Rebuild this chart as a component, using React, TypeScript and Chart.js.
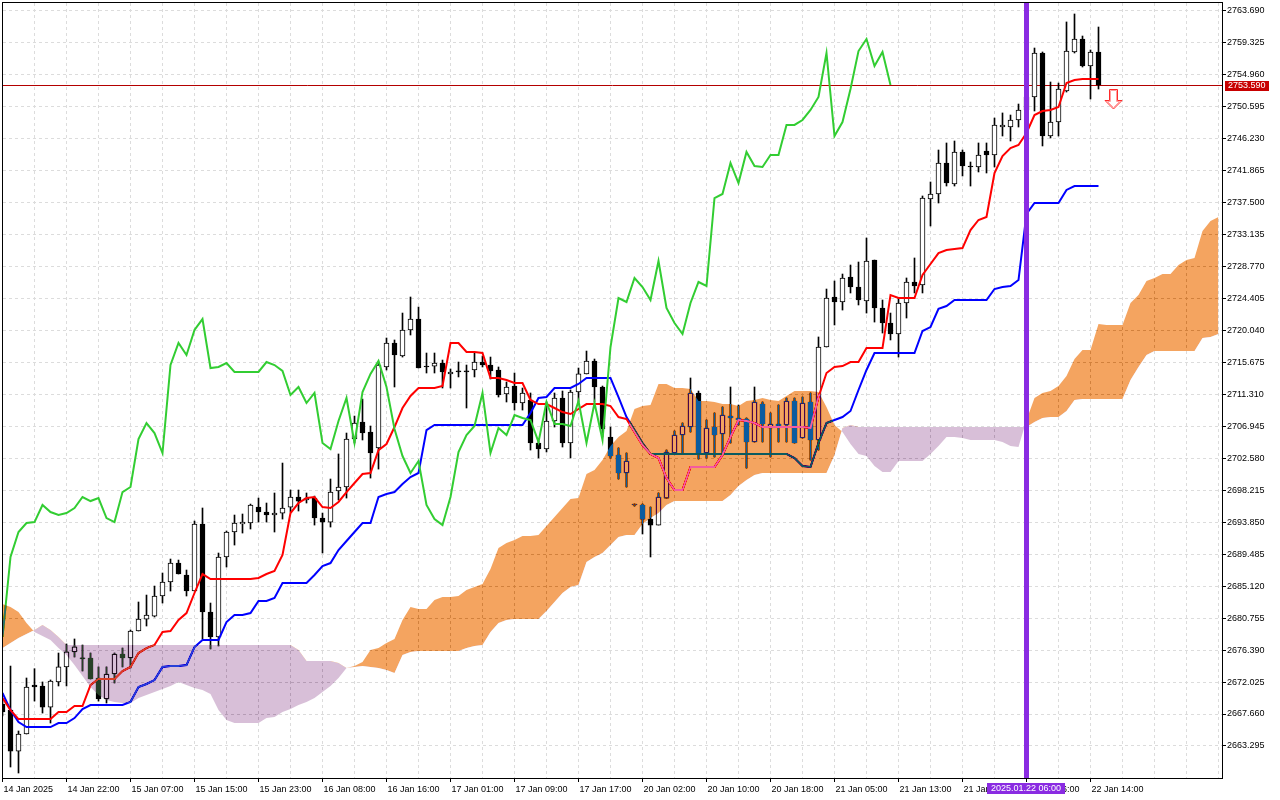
import React, { useEffect, useRef } from 'react';
import { Chart, registerables } from 'chart.js';

Chart.register(...registerables);

// XAUUSD H1, 14 Jan 14:00 .. 22 Jan 15:00 (one label every 8 bars)
const xLabels = [
  '14 Jan 2025', '14 Jan 22:00', '15 Jan 07:00', '15 Jan 15:00', '15 Jan 23:00', '16 Jan 08:00',
  '16 Jan 16:00', '17 Jan 01:00', '17 Jan 09:00', '17 Jan 17:00', '20 Jan 02:00', '20 Jan 10:00',
  '20 Jan 18:00', '21 Jan 05:00', '21 Jan 13:00', '21 Jan 21:00', '22 Jan 06:00', '22 Jan 14:00',
];

const yTicks = [
  2663.295, 2667.66, 2672.025, 2676.39, 2680.755, 2685.12, 2689.485, 2693.85, 2698.215, 2702.58,
  2706.945, 2711.31, 2715.675, 2720.04, 2724.405, 2728.77, 2733.135, 2737.5, 2741.865, 2746.23,
  2750.595, 2754.96, 2759.325, 2763.69,
];

const opens = [
  2669.02, 2668.20, 2662.60, 2664.93, 2671.62, 2671.49, 2668.61, 2672.04, 2674.09, 2676.14,
  2675.31, 2675.31, 2672.58, 2669.71, 2673.13, 2675.86, 2675.31, 2679.00, 2680.63, 2681.04,
  2683.78, 2685.69, 2688.28, 2686.65, 2684.46, 2693.61, 2681.59, 2678.18, 2689.11, 2692.52,
  2693.61, 2693.75, 2695.93, 2695.25, 2694.84, 2695.11, 2695.93, 2697.30, 2696.89, 2697.16,
  2694.43, 2693.88, 2698.12, 2698.67, 2705.22, 2707.55, 2706.18, 2704.00, 2715.06, 2718.34,
  2716.56, 2720.11, 2721.61, 2715.19, 2715.19, 2715.60, 2714.11, 2714.52, 2714.52, 2714.65,
  2715.74, 2715.33, 2714.65, 2711.37, 2712.46, 2710.14, 2710.55, 2704.68, 2703.86, 2707.68,
  2710.82, 2704.68, 2711.64, 2714.11, 2715.88, 2712.33, 2705.50, 2703.04, 2700.58, 2696.21,
  2696.21, 2694.29, 2693.47, 2697.16, 2703.31, 2705.77, 2706.86, 2711.51, 2703.31, 2706.86,
  2705.91, 2708.36, 2708.09, 2707.96, 2704.82, 2710.00, 2706.73, 2707.27, 2707.14, 2710.41,
  2705.36, 2710.28, 2705.09, 2717.79, 2724.62, 2723.94, 2727.35, 2725.99, 2724.07, 2729.67,
  2723.12, 2721.07, 2719.57, 2723.80, 2726.67, 2726.26, 2738.01, 2738.69, 2742.92, 2740.06,
  2744.43, 2742.52, 2742.38, 2744.56, 2744.02, 2747.84, 2747.84, 2748.80, 2750.17, 2751.94,
  2757.95, 2746.61, 2748.52, 2752.76, 2758.09, 2759.86, 2756.17, 2758.09,
];

const highs = [
  2669.57, 2674.21, 2665.34, 2672.58, 2673.85, 2672.04, 2672.31, 2675.99, 2677.23, 2677.91,
  2677.09, 2675.99, 2674.09, 2674.09, 2675.99, 2676.67, 2679.13, 2682.96, 2683.91, 2685.14,
  2686.92, 2688.83, 2688.69, 2687.33, 2694.02, 2695.80, 2682.82, 2689.65, 2692.66, 2694.84,
  2694.98, 2696.34, 2697.16, 2696.48, 2697.85, 2701.94, 2698.26, 2698.26, 2697.85, 2697.43,
  2695.11, 2699.76, 2703.18, 2706.04, 2708.36, 2710.68, 2707.00, 2715.74, 2719.02, 2718.75,
  2722.43, 2724.62, 2723.25, 2716.97, 2716.97, 2716.01, 2714.79, 2715.74, 2715.33, 2716.97,
  2716.56, 2716.42, 2715.06, 2713.01, 2714.24, 2712.19, 2711.51, 2704.95, 2710.28, 2711.51,
  2711.78, 2711.92, 2714.92, 2717.24, 2716.15, 2712.46, 2706.86, 2704.00, 2703.31, 2696.34,
  2696.34, 2695.93, 2697.85, 2703.72, 2706.32, 2707.41, 2713.56, 2711.78, 2707.82, 2708.78,
  2709.60, 2712.33, 2709.87, 2708.09, 2712.33, 2710.28, 2708.78, 2709.87, 2710.82, 2710.82,
  2710.96, 2711.51, 2719.16, 2725.71, 2726.81, 2727.76, 2728.99, 2729.40, 2732.68, 2729.67,
  2724.21, 2722.43, 2724.48, 2727.22, 2729.95, 2738.42, 2740.33, 2744.70, 2745.66, 2745.93,
  2744.70, 2743.06, 2745.66, 2745.66, 2749.07, 2749.76, 2749.48, 2750.98, 2752.62, 2758.63,
  2758.09, 2753.99, 2753.85, 2762.19, 2763.28, 2760.27, 2758.36, 2761.50,
];

const lows = [
  2667.39, 2660.42, 2659.60, 2664.93, 2669.43, 2667.79, 2666.43, 2671.49, 2671.49, 2675.45,
  2673.54, 2672.45, 2669.43, 2669.16, 2671.90, 2674.09, 2673.95, 2679.00, 2679.68, 2680.91,
  2682.82, 2684.46, 2686.78, 2683.78, 2684.46, 2677.91, 2676.55, 2676.96, 2687.74, 2690.74,
  2692.38, 2692.93, 2693.88, 2693.88, 2692.52, 2694.29, 2695.25, 2695.39, 2696.48, 2693.47,
  2689.65, 2693.20, 2696.89, 2697.16, 2704.68, 2705.09, 2699.89, 2701.12, 2714.65, 2712.33,
  2716.42, 2719.43, 2714.92, 2714.24, 2714.24, 2712.19, 2712.19, 2713.70, 2709.46, 2713.70,
  2715.06, 2713.42, 2710.96, 2710.28, 2709.18, 2709.18, 2703.72, 2702.63, 2703.45, 2706.86,
  2704.13, 2702.63, 2710.28, 2714.11, 2710.28, 2705.50, 2702.63, 2699.76, 2698.67, 2696.07,
  2692.25, 2689.11, 2693.47, 2697.16, 2703.31, 2703.31, 2706.18, 2702.49, 2702.63, 2702.77,
  2703.31, 2704.68, 2707.14, 2701.26, 2704.82, 2704.82, 2702.77, 2704.82, 2704.82, 2704.68,
  2705.36, 2702.36, 2703.72, 2717.79, 2720.80, 2722.84, 2725.17, 2723.53, 2722.43, 2721.20,
  2719.70, 2718.75, 2716.42, 2721.75, 2725.17, 2725.17, 2734.32, 2737.46, 2739.78, 2739.78,
  2741.15, 2739.78, 2741.70, 2741.56, 2742.38, 2746.61, 2745.93, 2747.84, 2749.35, 2750.03,
  2745.25, 2746.34, 2746.61, 2752.62, 2757.95, 2756.04, 2751.67, 2753.03,
];

const closes = [
  2667.93, 2662.60, 2664.93, 2671.35, 2671.35, 2668.61, 2672.17, 2674.09, 2676.14, 2676.82,
  2675.20, 2672.45, 2669.71, 2673.13, 2675.86, 2675.31, 2679.00, 2680.63, 2681.18, 2683.78,
  2685.69, 2688.28, 2686.78, 2684.46, 2693.61, 2681.59, 2678.18, 2689.11, 2692.52, 2693.75,
  2693.88, 2696.21, 2695.25, 2694.84, 2695.11, 2695.80, 2697.30, 2696.75, 2697.16, 2694.43,
  2693.88, 2697.98, 2698.67, 2705.22, 2707.41, 2706.04, 2703.31, 2715.33, 2718.34, 2716.70,
  2720.11, 2721.61, 2714.92, 2715.06, 2715.60, 2714.38, 2714.38, 2714.38, 2714.38, 2715.74,
  2715.33, 2714.52, 2711.24, 2712.33, 2710.14, 2711.51, 2704.68, 2703.86, 2707.68, 2710.82,
  2704.68, 2711.64, 2714.11, 2715.88, 2712.33, 2706.59, 2702.90, 2700.58, 2702.22, 2696.21,
  2694.29, 2693.47, 2697.30, 2703.45, 2705.77, 2707.00, 2711.51, 2703.31, 2706.73, 2705.77,
  2708.50, 2708.09, 2707.82, 2704.82, 2710.28, 2707.27, 2707.27, 2707.00, 2710.41, 2704.68,
  2710.14, 2705.09, 2717.79, 2724.48, 2723.94, 2727.22, 2725.99, 2724.21, 2729.54, 2723.12,
  2721.07, 2719.57, 2723.80, 2726.67, 2726.13, 2738.14, 2738.69, 2742.92, 2740.19, 2744.43,
  2742.52, 2742.38, 2744.02, 2744.02, 2748.12, 2748.12, 2748.80, 2750.17, 2751.94, 2757.95,
  2746.61, 2748.52, 2753.03, 2758.22, 2759.86, 2756.17, 2758.09, 2753.59,
];

const tenkan = [
  2669.84, 2668.20, 2666.97, 2666.97, 2666.97, 2666.97, 2666.97, 2667.93, 2667.93, 2668.75,
  2668.75, 2671.62, 2672.44, 2672.44, 2672.44, 2673.53, 2674.08, 2675.99, 2676.67, 2677.08,
  2678.86, 2679.00, 2680.50, 2681.45, 2684.19, 2686.78, 2686.10, 2686.10, 2686.10, 2686.10,
  2686.10, 2686.10, 2686.24, 2686.78, 2687.19, 2689.38, 2695.11, 2696.48, 2697.16, 2697.30,
  2695.93, 2695.80, 2696.62, 2697.98, 2699.21, 2700.44, 2700.58, 2703.70, 2704.54, 2706.86,
  2709.46, 2711.10, 2712.19, 2712.19, 2712.19, 2712.46, 2718.34, 2718.34, 2717.11, 2717.11,
  2716.97, 2713.56, 2713.56, 2713.28, 2712.87, 2712.87, 2710.55, 2710.00, 2710.00, 2709.46,
  2708.91, 2708.64, 2709.32, 2710.00, 2710.00, 2710.00, 2709.73, 2708.23, 2707.95, 2706.18,
  2704.40, 2703.18, 2702.63, 2699.89, 2698.26, 2698.26, 2701.40, 2701.40, 2701.40, 2701.40,
  2703.04, 2705.50, 2707.82, 2707.68, 2707.41, 2706.86, 2706.86, 2706.86, 2706.86, 2706.86,
  2706.86, 2706.73, 2710.96, 2714.24, 2715.06, 2715.19, 2715.74, 2715.74, 2717.65, 2717.65,
  2717.65, 2724.89, 2724.48, 2724.48, 2724.48, 2727.63, 2729.13, 2730.62, 2731.04, 2731.17,
  2731.31, 2733.77, 2735.14, 2735.55, 2741.56, 2743.88, 2744.97, 2745.38, 2747.02, 2749.48,
  2750.03, 2750.17, 2750.57, 2753.85, 2754.26, 2754.40, 2754.40, 2754.40,
];

const kijun = [
  2670.53, 2668.20, 2666.56, 2665.88, 2665.88, 2665.88, 2665.88, 2666.43, 2666.43, 2667.11,
  2668.34, 2668.89, 2668.89, 2668.89, 2668.89, 2668.89, 2669.30, 2671.35, 2671.76, 2672.30,
  2674.08, 2674.21, 2674.21, 2674.35, 2676.81, 2677.77, 2677.77, 2677.77, 2680.22, 2681.18,
  2681.18, 2681.45, 2683.09, 2683.09, 2683.50, 2685.55, 2685.55, 2685.55, 2685.55, 2686.65,
  2687.88, 2688.28, 2690.06, 2691.29, 2692.52, 2693.75, 2693.75, 2697.30, 2697.71, 2697.98,
  2699.08, 2700.03, 2700.58, 2706.45, 2707.14, 2707.14, 2707.14, 2707.14, 2707.14, 2707.14,
  2707.14, 2707.14, 2707.14, 2707.14, 2707.14, 2707.14, 2708.78, 2710.82, 2710.96, 2712.19,
  2712.19, 2712.19, 2712.74, 2713.56, 2713.56, 2713.56, 2713.56, 2710.96, 2708.23, 2706.45,
  2704.68, 2703.18, 2703.18, 2703.18, 2703.18, 2703.18, 2703.18, 2703.18, 2703.18, 2703.18,
  2703.18, 2703.18, 2703.18, 2703.18, 2703.18, 2703.18, 2703.18, 2703.18, 2703.18, 2702.63,
  2701.54, 2701.40, 2704.68, 2707.41, 2707.82, 2708.23, 2709.05, 2711.92, 2714.65, 2716.97,
  2716.97, 2716.97, 2716.97, 2716.97, 2716.97, 2719.98, 2720.52, 2723.00, 2723.39, 2724.21,
  2724.21, 2724.21, 2724.21, 2724.21, 2725.71, 2725.99, 2726.13, 2726.94, 2735.96, 2737.46,
  2737.46, 2737.46, 2737.46, 2739.24, 2739.78, 2739.78, 2739.78, 2739.78,
];

// Senkou spans as displayed (already shifted 26 bars ahead), bar 0 .. 152
const spanA = [
  2682.68, 2682.27, 2681.59, 2680.09, 2678.86, 2678.31, 2677.77, 2676.67, 2675.72, 2674.35,
  2672.85, 2671.35, 2670.26, 2669.57, 2669.30, 2669.16, 2669.16, 2669.84, 2670.26, 2670.66,
  2671.07, 2671.49, 2672.04, 2671.62, 2671.21, 2670.94, 2670.39, 2668.20, 2666.84, 2666.43,
  2666.43, 2666.43, 2666.43, 2667.11, 2667.25, 2667.93, 2668.34, 2668.89, 2669.30, 2669.84,
  2670.66, 2671.49, 2672.58, 2673.95, 2674.21, 2674.76, 2676.40, 2676.67, 2677.36, 2677.91,
  2680.50, 2682.27, 2682.00, 2682.00, 2683.23, 2683.64, 2683.64, 2683.78, 2684.60, 2685.01,
  2685.42, 2687.47, 2690.33, 2691.02, 2691.43, 2691.97, 2691.97, 2692.11, 2693.34, 2694.57,
  2695.80, 2697.03, 2697.16, 2700.44, 2700.99, 2702.36, 2704.27, 2705.50, 2706.32, 2709.32,
  2709.73, 2709.87, 2712.74, 2712.74, 2712.19, 2712.19, 2712.06, 2710.41, 2710.41, 2710.28,
  2710.00, 2710.00, 2709.73, 2710.41, 2710.55, 2710.82, 2710.55, 2710.41, 2711.10, 2711.78,
  2711.78, 2711.78, 2711.64, 2709.59, 2707.14, 2706.18, 2704.54, 2703.18, 2702.90, 2701.54,
  2700.71, 2700.71, 2702.22, 2702.22, 2702.22, 2702.22, 2703.18, 2704.27, 2705.50, 2705.50,
  2705.36, 2705.09, 2705.09, 2705.09, 2705.09, 2704.82, 2704.27, 2704.13, 2707.82, 2710.82,
  2711.51, 2711.78, 2712.46, 2713.83, 2716.15, 2717.38, 2717.38, 2720.93, 2720.80, 2720.80,
  2720.80, 2723.80, 2724.89, 2726.81, 2727.22, 2727.76, 2727.76, 2728.99, 2729.67, 2729.95,
  2733.64, 2735.00, 2735.55,
];

const spanB = [
  2676.67, 2677.36, 2678.04, 2678.59, 2679.13, 2679.81, 2679.13, 2678.18, 2677.08, 2677.08,
  2677.08, 2677.08, 2677.08, 2677.08, 2677.08, 2677.08, 2677.08, 2677.08, 2677.08, 2677.08,
  2677.08, 2677.08, 2677.08, 2677.08, 2677.08, 2677.08, 2677.08, 2677.08, 2677.08, 2677.08,
  2677.08, 2677.08, 2677.08, 2677.08, 2677.08, 2677.08, 2677.08, 2676.40, 2674.90, 2674.90,
  2674.90, 2674.90, 2674.62, 2673.95, 2674.08, 2674.21, 2674.08, 2673.95, 2673.67, 2673.26,
  2675.72, 2676.13, 2676.26, 2676.26, 2676.26, 2676.26, 2676.26, 2676.26, 2676.67, 2676.94,
  2677.08, 2678.86, 2680.09, 2680.50, 2680.63, 2680.63, 2680.63, 2680.63, 2681.72, 2682.96,
  2684.19, 2685.01, 2685.28, 2688.42, 2689.11, 2689.65, 2690.74, 2691.84, 2692.11, 2692.11,
  2693.61, 2694.43, 2695.11, 2696.21, 2696.75, 2696.75, 2696.75, 2696.75, 2696.75, 2696.75,
  2696.75, 2697.57, 2698.80, 2699.62, 2700.30, 2700.58, 2700.58, 2700.58, 2700.58, 2700.58,
  2700.58, 2700.58, 2700.58, 2700.58, 2703.04, 2706.73, 2707.14, 2706.86, 2706.86, 2706.86,
  2706.86, 2706.86, 2706.86, 2706.86, 2706.86, 2706.86, 2706.86, 2706.86, 2706.86, 2706.86,
  2706.86, 2706.86, 2706.86, 2706.86, 2706.86, 2706.86, 2706.86, 2706.86, 2706.86, 2707.55,
  2708.09, 2708.23, 2708.23, 2709.05, 2710.55, 2710.69, 2710.69, 2710.69, 2710.69, 2710.69,
  2710.69, 2713.28, 2715.06, 2716.70, 2717.24, 2717.24, 2717.24, 2717.24, 2717.24, 2717.24,
  2719.02, 2719.16, 2719.57,
];

const lastPrice = 2753.59;
const markerIndex = 128; // vertical line 2025.01.22 06:00
const markerLabel = '2025.01.22 06:00';
const signalIndex = 139; // sell arrow
const signalPrice = 2753.0;

const FONT_FAMILY = '"Liberation Sans", Arial, sans-serif';
const FONT_SIZE = 9;
const FONT = `${FONT_SIZE}px ${FONT_FAMILY}`;
const GRID = '#dcdcdc';
// the cloud is painted with 'difference' over the finished chart, so these are the
// inverted colours of sandybrown / thistle (white turns into the real colour)
const ORANGE_INV = 'rgb(11,91,159)';
const PURPLE_INV = 'rgb(39,64,39)';

const xTickValues: number[] = [];
for (let v = 0; v <= 152; v += 4) xTickValues.push(v);

const hasLabel = (v: number) => v % 8 === 0 && xLabels[v / 8] !== undefined;

const terminalPlugin = {
  id: 'terminal',
  beforeDraw(chart: any) {
    const { ctx, width, height } = chart;
    ctx.save();
    ctx.fillStyle = '#ffffff';
    ctx.fillRect(0, 0, width, height);
    ctx.restore();
  },
  beforeDatasetsDraw(chart: any) {
    const { ctx, chartArea: a, scales } = chart;
    const py = Math.round(scales.y.getPixelForValue(lastPrice)) + 0.5;
    ctx.save();
    ctx.strokeStyle = '#b40000';
    ctx.lineWidth = 1;
    ctx.beginPath();
    ctx.moveTo(a.left, py);
    ctx.lineTo(a.right, py);
    ctx.stroke();
    ctx.restore();
  },
  afterDatasetDraw(chart: any, args: any) {
    if (args.index === 5) chart.ctx.globalCompositeOperation = 'difference';
    if (args.index === 6) chart.ctx.globalCompositeOperation = 'source-over';
  },
  afterDraw(chart: any) {
    const { ctx, chartArea: a, scales } = chart;
    ctx.save();
    ctx.globalCompositeOperation = 'source-over';

    // vertical line + its time label
    const vx = scales.x.getPixelForValue(markerIndex);
    ctx.fillStyle = '#8a2be2';
    ctx.fillRect(vx - 2.5, a.top, 5, a.bottom - a.top);
    ctx.font = FONT;
    ctx.textBaseline = 'middle';
    ctx.textAlign = 'left';
    const tw = ctx.measureText(markerLabel).width;
    ctx.fillRect(Math.round(vx - tw / 2 - 4), a.bottom + 5, Math.round(tw + 8), 11);
    ctx.fillStyle = '#ffffff';
    ctx.fillText(markerLabel, Math.round(vx - tw / 2), a.bottom + 11);

    // frame
    ctx.strokeStyle = '#000000';
    ctx.lineWidth = 1;
    ctx.strokeRect(a.left - 0.5, a.top - 0.5, a.right - a.left + 1, a.bottom - a.top + 1);

    // bid label
    const py = Math.round(scales.y.getPixelForValue(lastPrice));
    ctx.fillStyle = '#c80000';
    ctx.fillRect(a.right + 3, py - 4, 44, 10);
    ctx.fillStyle = '#ffffff';
    ctx.fillText(lastPrice.toFixed(3), a.right + 6, py + 1);

    // sell arrow
    const sx = Math.round(scales.x.getPixelForValue(signalIndex)) - 1.5;
    const sy = Math.round(scales.y.getPixelForValue(signalPrice)) + 0.5;
    ctx.beginPath();
    ctx.moveTo(sx - 4, sy);
    ctx.lineTo(sx + 4, sy);
    ctx.lineTo(sx + 4, sy + 11);
    ctx.lineTo(sx + 8.5, sy + 11);
    ctx.lineTo(sx, sy + 19.5);
    ctx.lineTo(sx - 8.5, sy + 11);
    ctx.lineTo(sx - 4, sy + 11);
    ctx.closePath();
    ctx.fillStyle = '#ffffff';
    ctx.fill();
    ctx.strokeStyle = '#ff2a2a';
    ctx.stroke();
    ctx.beginPath();
    ctx.moveTo(sx - 3, sy + 1);
    ctx.lineTo(sx + 3, sy + 1);
    ctx.lineTo(sx + 3, sy + 12);
    ctx.lineTo(sx + 6, sy + 12);
    ctx.lineTo(sx, sy + 18);
    ctx.lineTo(sx - 6, sy + 12);
    ctx.lineTo(sx - 3, sy + 12);
    ctx.closePath();
    ctx.strokeStyle = '#ffa0a0';
    ctx.stroke();
    ctx.restore();
  },
};

const IchimokuChart: React.FC = () => {
  const canvasRef = useRef<HTMLCanvasElement>(null);

  useEffect(() => {
    if (!canvasRef.current) return;
    const ctx = canvasRef.current.getContext('2d');
    if (!ctx) return;

    const line = (data: { x: number; y: number }[], color: string, order: number) => ({
      type: 'line' as const,
      data,
      borderColor: color,
      borderWidth: 2,
      pointRadius: 0,
      tension: 0,
      fill: false,
      order,
    });

    const chart = new Chart(ctx, {
      type: 'bar',
      data: {
        datasets: [
          {
            type: 'bar',
            label: 'wicks',
            data: highs.map((h, i) => ({ x: i, y: [lows[i], h] })) as any,
            backgroundColor: '#000000',
            borderWidth: 0,
            barThickness: 1,
            grouped: false,
            order: 10,
          },
          {
            type: 'bar',
            label: 'bodies',
            data: opens.map((o, i) => ({ x: i, y: [o, closes[i]] })) as any,
            backgroundColor: (c: any) => (closes[c.dataIndex] >= opens[c.dataIndex] ? '#ffffff' : '#000000'),
            borderColor: '#000000',
            borderWidth: 1,
            borderSkipped: false,
            barThickness: 5,
            minBarLength: 1,
            grouped: false,
            order: 9,
          },
          { label: 'Kijun-sen', ...line(kijun.map((v, i) => ({ x: i, y: v })), '#0000ff', 8) },
          { label: 'Tenkan-sen', ...line(tenkan.map((v, i) => ({ x: i, y: v })), '#ff0000', 7) },
          { label: 'Chikou Span', ...line(closes.map((v, i) => ({ x: i - 26, y: v })), '#32cd32', 6) },
          {
            type: 'line',
            label: 'Senkou Span B',
            data: spanB.map((v, i) => ({ x: i, y: v })),
            borderColor: 'rgba(0,0,0,0)',
            borderWidth: 0,
            pointRadius: 0,
            fill: false,
            order: 2,
          },
          {
            type: 'line',
            label: 'Senkou Span A',
            data: spanA.map((v, i) => ({ x: i, y: v })),
            borderColor: 'rgba(0,0,0,0)',
            borderWidth: 0,
            pointRadius: 0,
            fill: { target: 5, above: ORANGE_INV, below: PURPLE_INV },
            order: 1,
          },
        ] as any,
      },
      options: {
        animation: false,
        responsive: false,
        devicePixelRatio: 1,
        events: [],
        layout: { padding: { left: 3, top: 3, right: 0, bottom: 0 } },
        plugins: {
          legend: { display: false },
          tooltip: { enabled: false },
          filler: { drawTime: 'beforeDatasetDraw' },
        },
        scales: {
          x: {
            type: 'linear',
            min: 0.0625,
            max: 152.4375,
            offset: false,
            afterBuildTicks: (s: any) => {
              s.ticks = xTickValues.map((v) => ({ value: v }));
            },
            afterFit: (s: any) => {
              s.height = 22;
              s.paddingLeft = 0;
              s.paddingRight = 0;
            },
            ticks: {
              autoSkip: false,
              maxRotation: 0,
              minRotation: 0,
              align: 'start',
              labelOffset: 1,
              padding: 2,
              color: '#000000',
              font: { family: FONT_FAMILY, size: FONT_SIZE },
              callback: (v: any) => (hasLabel(Number(v)) ? xLabels[Number(v) / 8] : ''),
            },
            grid: {
              offset: false,
              color: GRID,
              lineWidth: 1,
              tickLength: 4,
              tickColor: (c: any) => (c.tick && hasLabel(c.tick.value) ? '#000000' : 'rgba(0,0,0,0)'),
            },
            border: { display: false, dash: [3, 3] },
          },
          y: {
            position: 'right',
            min: 2658.92,
            max: 2764.78,
            afterBuildTicks: (s: any) => {
              s.ticks = yTicks.map((v) => ({ value: v }));
            },
            afterFit: (s: any) => {
              s.width = 58;
              s.paddingTop = 0;
              s.paddingBottom = 0;
            },
            ticks: {
              autoSkip: false,
              padding: 1,
              color: '#000000',
              font: { family: FONT_FAMILY, size: FONT_SIZE },
              callback: (v: any) => Number(v).toFixed(3),
            },
            grid: { color: GRID, lineWidth: 1, tickLength: 4, tickColor: '#000000' },
            border: { display: false, dash: [3, 3] },
          },
        },
      } as any,
      plugins: [terminalPlugin],
    });

    return () => {
      chart.destroy();
    };
  }, []);

  return <canvas ref={canvasRef} width={1280} height={800} style={{ display: 'block' }}></canvas>;
};

const App: React.FC = () => (
  <div style={{ position: 'fixed', left: 0, top: 0, width: 1280, height: 800, background: '#ffffff' }}>
    <IchimokuChart />
  </div>
);

export default App;
